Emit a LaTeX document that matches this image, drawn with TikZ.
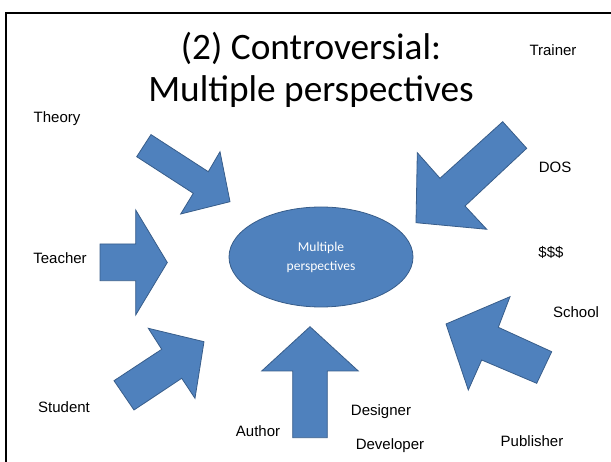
\documentclass[tikz,border=0pt]{standalone}
\usepackage{fontspec}
\setmainfont{Liberation Sans}
\newfontfamily\calibri{Carlito}
\usetikzlibrary{shapes.geometric}
\definecolor{slideblue}{HTML}{4F81BD}
\definecolor{slideedge}{HTML}{385D8A}

\begin{document}
\begin{tikzpicture}[x=1pt,y=-1pt,
    blockarrow/.style={fill=slideblue,draw=slideedge,line width=0.8pt,line join=miter},
    role/.style={font=\fontsize{15}{18}\selectfont,inner sep=0pt},
    hub/.style={ellipse,fill=slideblue,draw=slideedge,line width=0.8pt,minimum width=184pt,minimum height=100pt,inner sep=0pt,text=white,align=center,font=\calibri\fontsize{13.5}{19}\selectfont},
    slidetitle/.style={align=center,font=\calibri\fontsize{37.3}{42.4}\selectfont,inner sep=0pt}]
    \useasboundingbox (0,0) rectangle (611,462);
    \draw[line width=2pt] (611,13) -- (6,13) -- (6,462);

    \node[slidetitle,anchor=base] (title) at (311,101.7) {(2) Controversial:\\Multiple perspectives};
    \node[hub] (centre) at (321,257) {Multiple\\perspectives};

    \filldraw[blockarrow] (136.7,156.7) -- (151,134.6) -- (208.3,171.7) -- (220,151.7) -- (230,201.7) -- (180.7,214) -- (193.3,193.3) -- cycle;
    \filldraw[blockarrow] (100,244) -- (135.7,244) -- (135.7,210) -- (167.3,262.5) -- (135.7,315) -- (135.7,280.7) -- (100,280.7) -- cycle;
    \filldraw[blockarrow] (114,380.7) -- (161.7,349.3) -- (148.3,328.3) -- (204,341.7) -- (195,398.3) -- (181.7,378.3) -- (134,410) -- cycle;
    \filldraw[blockarrow] (292.7,437.7) -- (292.7,371) -- (261.7,371) -- (310,326.7) -- (358.3,371) -- (327.3,371) -- (327.3,437.7) -- cycle;
    \filldraw[blockarrow] (551.7,351.7) -- (498.3,327.3) -- (510,296.7) -- (446,324) -- (468.3,390) -- (481.7,360) -- (536.7,383.3) -- cycle;
    \filldraw[blockarrow] (502.7,121.7) -- (526.7,148.3) -- (465,206) -- (486.7,229.3) -- (416,222.7) -- (417.3,152.7) -- (440,178.3) -- cycle;

    \node[role] (trainer) at (553,50) {Trainer};
    \node[role] (theory) at (57,119) {Theory};
    \node[role] (dos) at (555,167) {DOS};
    \node[role] (teacher) at (60,258) {Teacher};
    \node[role] (money) at (551,252) {\$\$\$};
    \node[role] (school) at (576,312) {School};
    \node[role] (student) at (64,407) {Student};
    \node[role] (author) at (258,431) {Author};
    \node[role] (designer) at (381,412) {Designer};
    \node[role] (developer) at (390,446) {Developer};
    \node[role] (publisher) at (532,441) {Publisher};
\end{tikzpicture}
\end{document}
